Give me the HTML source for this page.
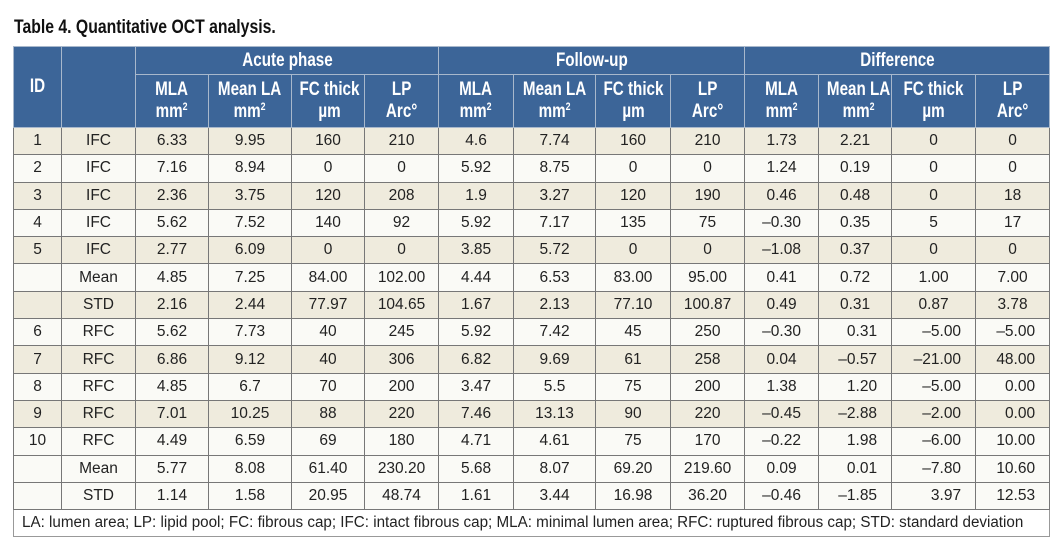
<!DOCTYPE html>
<html><head><meta charset="utf-8"><style>
body{margin:0;background:#fff;width:1062px;height:555px;overflow:hidden;font-family:"Liberation Sans",sans-serif;}
.title{position:absolute;left:14px;top:17px;font-weight:bold;font-size:19px;color:#111;transform:scaleX(0.83);transform-origin:0 0;white-space:nowrap;}
table{position:absolute;left:13px;top:46px;border-collapse:collapse;table-layout:fixed;width:1036px;}
td,th{padding:0;text-align:center;font-size:15.5px;color:#222;border:1px solid #777;white-space:nowrap;overflow:hidden;}
th{background:#3c6598;color:#fff;font-weight:bold;font-size:19px;border:1px solid #a8b8cc;line-height:22px;}
th span{display:inline-block;transform:scaleX(0.8);}
thead tr:first-child th{height:27px;}
thead tr:nth-child(2) th{height:52px;}
tbody td{height:26.3px;}
tr.s td{background:#efebdd;}
tr.w td{background:#fafaf6;}
td.r{text-align:right;padding-right:14px;}
.foot td{text-align:left;padding-left:8px;background:#fff;height:26.3px;border-color:#999;}
.foot span{display:inline-block;font-size:15.5px;transform:scaleX(0.98);transform-origin:0 50%;}
sup{font-size:11px;vertical-align:7px;line-height:0;}
</style></head><body>
<div class="title">Table 4. Quantitative OCT analysis.</div>
<table>
<colgroup><col style="width:48px"><col style="width:74px"><col style="width:73px"><col style="width:83px"><col style="width:73px"><col style="width:74px"><col style="width:75px"><col style="width:82px"><col style="width:75px"><col style="width:74px"><col style="width:74px"><col style="width:73px"><col style="width:84px"><col style="width:74px"></colgroup>
<thead>
<tr><th rowspan="2"><span>ID</span></th><th rowspan="2"></th><th colspan="4"><span>Acute phase</span></th><th colspan="4"><span>Follow-up</span></th><th colspan="4"><span>Difference</span></th></tr>
<tr><th><span>MLA<br>mm<sup>2</sup></span></th><th><span>Mean LA<br>mm<sup>2</sup></span></th><th><span>FC thick<br>µm</span></th><th><span>LP<br>Arc°</span></th><th><span>MLA<br>mm<sup>2</sup></span></th><th><span>Mean LA<br>mm<sup>2</sup></span></th><th><span>FC thick<br>µm</span></th><th><span>LP<br>Arc°</span></th><th><span>MLA<br>mm<sup>2</sup></span></th><th><span>Mean LA<br>mm<sup>2</sup></span></th><th><span>FC thick<br>µm</span></th><th><span>LP<br>Arc°</span></th></tr>
</thead>
<tbody>
<tr class="s"><td>1</td><td>IFC</td><td>6.33</td><td>9.95</td><td>160</td><td>210</td><td>4.6</td><td>7.74</td><td>160</td><td>210</td><td>1.73</td><td>2.21</td><td>0</td><td>0</td></tr>
<tr class="w"><td>2</td><td>IFC</td><td>7.16</td><td>8.94</td><td>0</td><td>0</td><td>5.92</td><td>8.75</td><td>0</td><td>0</td><td>1.24</td><td>0.19</td><td>0</td><td>0</td></tr>
<tr class="s"><td>3</td><td>IFC</td><td>2.36</td><td>3.75</td><td>120</td><td>208</td><td>1.9</td><td>3.27</td><td>120</td><td>190</td><td>0.46</td><td>0.48</td><td>0</td><td>18</td></tr>
<tr class="w"><td>4</td><td>IFC</td><td>5.62</td><td>7.52</td><td>140</td><td>92</td><td>5.92</td><td>7.17</td><td>135</td><td>75</td><td>–0.30</td><td>0.35</td><td>5</td><td>17</td></tr>
<tr class="s"><td>5</td><td>IFC</td><td>2.77</td><td>6.09</td><td>0</td><td>0</td><td>3.85</td><td>5.72</td><td>0</td><td>0</td><td>–1.08</td><td>0.37</td><td>0</td><td>0</td></tr>
<tr class="w"><td></td><td>Mean</td><td>4.85</td><td>7.25</td><td>84.00</td><td>102.00</td><td>4.44</td><td>6.53</td><td>83.00</td><td>95.00</td><td>0.41</td><td>0.72</td><td>1.00</td><td>7.00</td></tr>
<tr class="s"><td></td><td>STD</td><td>2.16</td><td>2.44</td><td>77.97</td><td>104.65</td><td>1.67</td><td>2.13</td><td>77.10</td><td>100.87</td><td>0.49</td><td>0.31</td><td>0.87</td><td>3.78</td></tr>
<tr class="w"><td>6</td><td>RFC</td><td>5.62</td><td>7.73</td><td>40</td><td>245</td><td>5.92</td><td>7.42</td><td>45</td><td>250</td><td>–0.30</td><td class="r">0.31</td><td class="r">–5.00</td><td class="r">–5.00</td></tr>
<tr class="s"><td>7</td><td>RFC</td><td>6.86</td><td>9.12</td><td>40</td><td>306</td><td>6.82</td><td>9.69</td><td>61</td><td>258</td><td>0.04</td><td class="r">–0.57</td><td class="r">–21.00</td><td class="r">48.00</td></tr>
<tr class="w"><td>8</td><td>RFC</td><td>4.85</td><td>6.7</td><td>70</td><td>200</td><td>3.47</td><td>5.5</td><td>75</td><td>200</td><td>1.38</td><td class="r">1.20</td><td class="r">–5.00</td><td class="r">0.00</td></tr>
<tr class="s"><td>9</td><td>RFC</td><td>7.01</td><td>10.25</td><td>88</td><td>220</td><td>7.46</td><td>13.13</td><td>90</td><td>220</td><td>–0.45</td><td class="r">–2.88</td><td class="r">–2.00</td><td class="r">0.00</td></tr>
<tr class="w"><td>10</td><td>RFC</td><td>4.49</td><td>6.59</td><td>69</td><td>180</td><td>4.71</td><td>4.61</td><td>75</td><td>170</td><td>–0.22</td><td class="r">1.98</td><td class="r">–6.00</td><td class="r">10.00</td></tr>
<tr class="w"><td></td><td>Mean</td><td>5.77</td><td>8.08</td><td>61.40</td><td>230.20</td><td>5.68</td><td>8.07</td><td>69.20</td><td>219.60</td><td>0.09</td><td class="r">0.01</td><td class="r">–7.80</td><td class="r">10.60</td></tr>
<tr class="w"><td></td><td>STD</td><td>1.14</td><td>1.58</td><td>20.95</td><td>48.74</td><td>1.61</td><td>3.44</td><td>16.98</td><td>36.20</td><td>–0.46</td><td class="r">–1.85</td><td class="r">3.97</td><td class="r">12.53</td></tr>
<tr class="foot"><td colspan="14"><span>LA: lumen area; LP: lipid pool; FC: fibrous cap; IFC: intact fibrous cap; MLA: minimal lumen area; RFC: ruptured fibrous cap; STD: standard deviation</span></td></tr>
</tbody>
</table>
</body></html>
